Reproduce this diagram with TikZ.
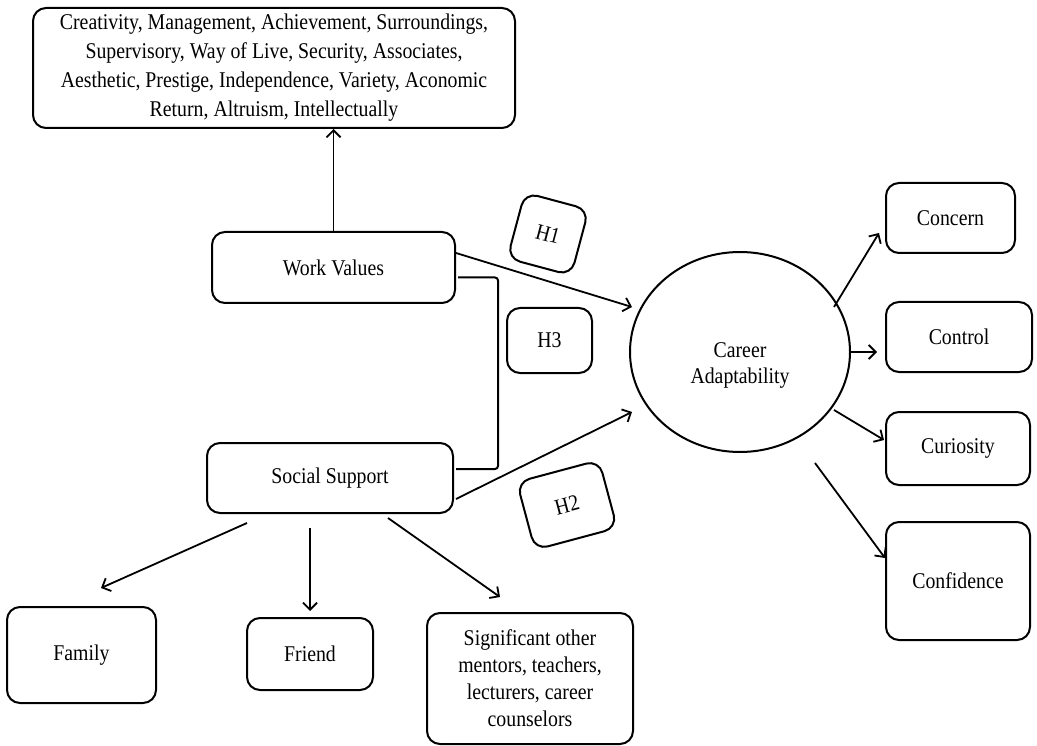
\documentclass[tikz,border=0pt]{standalone}
\usepackage{fontspec}
\setmainfont{Liberation Serif}[FakeStretch = 0.88]
\usetikzlibrary{arrows.meta, shapes.geometric}

\begin{document}
\begin{tikzpicture}[x = 1pt, y = -1pt,
        box/.style = {draw, line width = 2pt, rounded corners = 13pt, align = center, inner sep = 2pt,
            font = \fontsize{22.5}{27}\selectfont},
        hbox/.style = {box, minimum width = 80pt, minimum height = 66pt},
        arr/.style = {-{Straight Barb[length = 7pt, width = 14pt]}, line width = 1.8pt}]
    \useasboundingbox (0, 0) rectangle (1037, 746);

    % work values side
    \node [box, minimum width = 482pt, minimum height = 120pt, font = \fontsize{22.5}{29}\selectfont] (vals) at (274, 68)
        {Creativity, Management, Achievement, Surroundings,\\
         Supervisory, Way of Live, Security, Associates,\\
         Aesthetic, Prestige, Independence, Variety, Aconomic\\
         Return, Altruism, Intellectually};
    \node [box, minimum width = 243pt, minimum height = 71pt] (work) at (333.5, 267.5) {Work Values};
    \node [box, minimum width = 246pt, minimum height = 70pt] (social) at (330, 478) {Social Support};

    % social support sources
    \node [box, minimum width = 149pt, minimum height = 96pt] (family) at (81.5, 655) {Family};
    \node [box, minimum width = 126pt, minimum height = 72pt] (friend) at (310, 654) {Friend};
    \node [box, minimum width = 206pt, minimum height = 131pt] (other) at (530, 678.5)
        {Significant other\\ mentors, teachers,\\ lecturers, career\\ counselors};

    % hypotheses
    \node [hbox, minimum width = 66pt, minimum height = 68pt, rotate = -15] (h1) at (548, 234) {H1};
    \node [hbox, minimum width = 85pt, minimum height = 65pt] (h3) at (549.5, 340.5) {H3};
    \node [hbox, minimum width = 85pt, minimum height = 70pt, rotate = 15] (h2) at (567, 505) {H2};

    % career adaptability
    \node [ellipse, draw, line width = 2pt, minimum width = 220pt, minimum height = 200pt,
        label = {[font = \fontsize{22.5}{26}\selectfont, align = center, yshift = -13pt]center:Career\\ Adaptability}]
        (career) at (740, 352) {};
    \node [box, minimum width = 129pt, minimum height = 70pt] (concern) at (950.5, 218) {Concern};
    \node [box, minimum width = 146pt, minimum height = 70pt] (control) at (959, 337) {Control};
    \node [box, minimum width = 144pt, minimum height = 73pt] (curiosity) at (958, 448.5) {Curiosity};
    \node [box, minimum width = 144pt, minimum height = 118pt] (confidence) at (958, 581) {Confidence};

    \draw [arr] (work.north) -- (work.north |- vals.south);
    \draw [arr] ([yshift = 14.5pt]work.east) -- ([xshift = 3pt, yshift = 45pt]career.west);
    \draw [arr] ([xshift = 2pt, yshift = -21pt]social.east) -- ([xshift = 3pt, yshift = -60pt]career.west);
    \draw [line width = 2pt, rounded corners = 3pt] ([xshift = 2pt, yshift = -10pt]work.east) -- ++(40, 0)
        |- ([xshift = 2pt, yshift = 9pt]social.east);

    \draw [arr] ([xshift = -83pt, yshift = -9pt]social.south) -- ([xshift = 19.5pt, yshift = 18pt]family.north);
    \draw [arr] ([yshift = -14pt]friend.north |- social.south) -- ([yshift = 6pt]friend.north);
    \draw [arr] ([xshift = 58pt, yshift = -4pt]social.south) -- ([xshift = -30pt, yshift = 15pt]other.north);

    \draw [arr] ([xshift = -17pt, yshift = 45pt]career.east) -- ([xshift = -6pt, yshift = -15pt]concern.west);
    \draw [arr] (career.east) -- ([xshift = -8pt, yshift = -15pt]control.west);
    \draw [arr] ([xshift = -17pt, yshift = -58pt]career.east) -- ([xshift = -1pt, yshift = 8.5pt]curiosity.west);
    \draw [arr] ([xshift = 75pt, yshift = -10pt]career.south) -- ([yshift = 23pt]confidence.west);
\end{tikzpicture}
\end{document}
